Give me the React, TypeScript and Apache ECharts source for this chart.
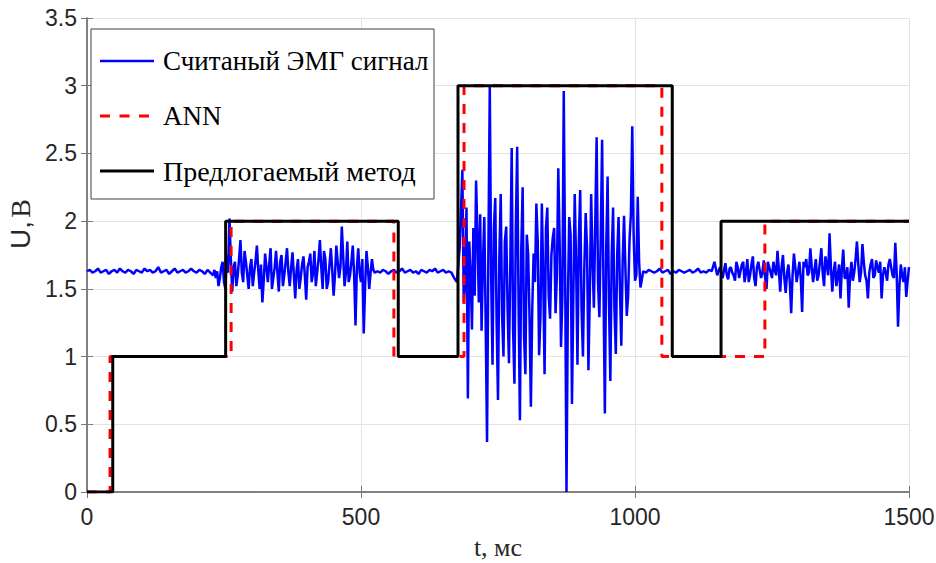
import React, { useEffect, useRef } from "react";
import * as echarts from "echarts";

// ---- data ----
const seriesNames = ["Считаный ЭМГ сигнал", "ANN", "Предлогаемый метод"];

// EMG samples every 5 ms, in segments [start time, values]; busy segments also carry
// in-between samples (at +2.5 ms)
const emgStep = 5;
const emgSeg0Start = 0;
const emgSeg0 = [1.63, 1.64, 1.62, 1.63, 1.65, 1.62, 1.63, 1.64, 1.61, 1.63, 1.64, 1.62, 1.65, 1.63, 1.62, 1.64, 1.63, 1.61, 1.64, 1.63, 1.62, 1.65, 1.63, 1.64, 1.62, 1.63, 1.66, 1.62, 1.63, 1.64, 1.61, 1.63, 1.65, 1.62, 1.63, 1.64, 1.62, 1.63, 1.65, 1.63, 1.62, 1.64, 1.63, 1.61, 1.64, 1.62];
const emgSeg1Start = 230;
const emgSeg1 = [1.60, 1.58, 1.52, 1.66, 1.55, 1.75, 2.02, 1.48, 1.70, 1.60, 1.86, 1.55, 1.70, 1.50, 1.72, 1.62, 1.82, 1.50, 1.40, 1.76, 1.55, 1.80, 1.58, 1.78, 1.48, 1.75, 1.60, 1.80, 1.52, 1.77, 1.43, 1.72, 1.58, 1.74, 1.42, 1.70, 1.55, 1.78, 1.62, 1.86, 1.50, 1.72, 1.55, 1.80, 1.45, 1.82, 1.58, 1.96, 1.52, 1.85, 1.60, 1.82, 1.23, 1.80, 1.55, 1.17, 1.78, 1.50, 1.72, 1.62];
const emgSeg1Mid = [1.64, 1.63, 1.58, 1.70, 1.50, 1.62, 1.72, 1.66, 1.52, 1.72, 1.62, 1.78, 1.60, 1.66, 1.52, 1.70, 1.64, 1.68, 1.56, 1.66, 1.68, 1.50, 1.66, 1.62, 1.70, 1.52, 1.70, 1.62, 1.66, 1.60, 1.64, 1.50, 1.68, 1.60, 1.66, 1.76, 1.62, 1.52, 1.72, 1.66, 1.78, 1.50, 1.68, 1.64, 1.60, 1.70, 1.66, 1.74, 1.62, 1.55, 1.70, 1.60, 1.66, 1.62, 1.72, 1.52, 1.66, 1.62, 1.64];
const emgSeg2Start = 530;
const emgSeg2 = [1.63, 1.62, 1.64, 1.63, 1.61, 1.63, 1.64, 1.62, 1.63, 1.65, 1.62, 1.63, 1.64, 1.62, 1.63, 1.61, 1.64, 1.63, 1.62, 1.64, 1.63, 1.65, 1.62, 1.63, 1.64, 1.62, 1.63, 1.62, 1.58, 1.55, 1.80];
const emgSeg3Start = 685;
const emgSeg3 = [2.38, 1.55, 0.69, 1.60, 1.95, 2.30, 1.40, 1.19, 2.03, 0.37, 3.00, 0.94, 2.17, 0.68, 2.20, 1.00, 1.96, 0.95, 2.54, 0.80, 2.55, 0.53, 2.25, 0.87, 1.76, 0.63, 1.76, 2.13, 1.01, 2.13, 0.87, 2.10, 1.28, 1.88, 1.32, 2.39, 1.07, 2.96, 0.00, 2.03, 0.65, 2.20, 0.94, 2.23, 1.00, 2.06, 0.90, 2.20, 1.36, 2.62, 1.29, 2.60, 0.58, 2.33, 0.82, 2.10, 1.02, 2.03, 1.08, 2.04, 1.30, 1.86, 2.70, 1.56, 2.18, 1.51];
const emgSeg3Mid = [1.40, 2.10, 1.85, 1.20, 1.45, 1.90, 2.05, 1.70, 1.25, 1.80, 1.60, 1.95, 1.25, 1.75, 1.30, 1.85, 1.35, 1.70, 1.20, 1.95, 1.40, 1.80, 1.15, 1.90, 1.30, 1.35, 1.55, 1.85, 1.30, 1.60, 1.95, 1.45, 1.75, 1.95, 1.60, 1.85, 1.45, 1.65, 1.40, 1.90, 1.45, 1.70, 1.85, 1.35, 1.65, 1.80, 1.45, 1.70, 2.00, 1.55, 1.90, 1.50, 1.80, 1.40, 1.75, 1.35, 1.75, 1.50, 1.70, 1.65, 1.45, 2.05, 1.90, 1.60, 1.70];
const emgSeg4Start = 1015;
const emgSeg4 = [1.63, 1.62, 1.64, 1.63, 1.62, 1.63, 1.65, 1.62, 1.63, 1.64, 1.61, 1.63, 1.62, 1.64, 1.63, 1.62, 1.63, 1.64, 1.62, 1.63, 1.65, 1.62, 1.63, 1.62, 1.64, 1.63, 1.70, 1.60];
const emgSeg5Start = 1155;
const emgSeg5 = [1.66, 1.58, 1.69, 1.57, 1.66, 1.60, 1.70, 1.58, 1.68, 1.55, 1.72, 1.60, 1.74, 1.52, 1.70, 1.58, 1.71, 1.50, 1.66, 1.58, 1.64, 1.78, 1.48, 1.75, 1.47, 1.68, 1.32, 1.76, 1.55, 1.70, 1.33, 1.66, 1.60, 1.80, 1.55, 1.72, 1.60, 1.80, 1.52, 1.68, 1.91, 1.48, 1.70, 1.60, 1.43, 1.79, 1.58, 1.36, 1.70, 1.62, 1.85, 1.55, 1.83, 1.60, 1.43, 1.68, 1.58, 1.71, 1.62, 1.43, 1.66, 1.56, 1.72, 1.60, 1.84, 1.22, 1.68, 1.55, 1.44, 1.66];
const emgSeg5Mid = [1.62, 1.64, 1.60, 1.65, 1.62, 1.56, 1.66, 1.63, 1.70, 1.62, 1.55, 1.68, 1.58, 1.66, 1.64, 1.62, 1.58, 1.70, 1.62, 1.70, 1.60, 1.64, 1.66, 1.58, 1.62, 1.55, 1.60, 1.66, 1.62, 1.58, 1.70, 1.72, 1.62, 1.66, 1.64, 1.56, 1.70, 1.62, 1.74, 1.60, 1.66, 1.62, 1.52, 1.68, 1.65, 1.58, 1.66, 1.60, 1.56, 1.72, 1.68, 1.62, 1.70, 1.56, 1.62, 1.72, 1.60, 1.66, 1.70, 1.60, 1.62, 1.68, 1.66, 1.58, 1.62, 1.52, 1.60, 1.66, 1.56];

// ANN step output: switch times and levels
const annTimes = [0, 42, 263, 560, 688, 1049, 1237];
const annLevels = [0, 1, 2, 1, 3, 1, 2];
// Proposed method step output
const methodTimes = [0, 47, 253, 568, 677, 1068, 1157];
const methodLevels = [0, 1, 2, 1, 3, 1, 2];
const tEnd = 1500;

const emgSegments: [number, number[], number[]][] = [
  [emgSeg0Start, emgSeg0, []],
  [emgSeg1Start, emgSeg1, emgSeg1Mid],
  [emgSeg2Start, emgSeg2, []],
  [emgSeg3Start, emgSeg3, emgSeg3Mid],
  [emgSeg4Start, emgSeg4, []],
  [emgSeg5Start, emgSeg5, emgSeg5Mid],
];

function buildEmg() {
  const out: number[][] = [];
  emgSegments.forEach(([start, vals, mids]) => {
    vals.forEach((v, k) => {
      out.push([start + k * emgStep, v]);
      if (k < mids.length) out.push([start + k * emgStep + emgStep / 2, mids[k]]);
    });
  });
  return out;
}

function buildStep(times: number[], levels: number[]) {
  const out = times.map((t, i) => [t, levels[i]]);
  out.push([tEnd, levels[levels.length - 1]]);
  return out;
}

const SANS = "Liberation Sans, Arial, sans-serif";
const SERIF = "Liberation Serif, Times New Roman, serif";

export default function App() {
  const ref = useRef<HTMLDivElement>(null);
  useEffect(() => {
    if (!ref.current) return;
    const chart = echarts.init(ref.current, undefined, { renderer: "svg" });
    const axisColor = "#7a7a7a";
    const labelColor = "#262626";
    const gridColor = "#e3e3e3";
    const legendRows = [61, 116, 171];
    const legendColors = ["#0000ff", "#ff0000", "#000000"];
    const legendWidths = [2.5, 3, 3];
    const legendFontSizes = [27, 27, 28];
    const legendGraphics: any[] = [
      {
        type: "rect",
        shape: { x: 91, y: 29, width: 343, height: 170 },
        style: { fill: "#ffffff", stroke: "#404040", lineWidth: 1 },
        z: 100,
      },
    ];
    seriesNames.forEach((name, i) => {
      legendGraphics.push({
        type: "line",
        shape: { x1: 100, y1: legendRows[i], x2: i === 1 ? 150 : 154, y2: legendRows[i] },
        style: {
          stroke: legendColors[i],
          lineWidth: legendWidths[i],
          lineDash: i === 1 ? [10, 9.5] : null,
        },
        z: 101,
      });
      legendGraphics.push({
        type: "text",
        x: 163,
        y: legendRows[i],
        style: {
          text: name,
          fontFamily: SERIF,
          fontSize: legendFontSizes[i],
          fill: "#000000",
          verticalAlign: "middle",
        },
        z: 101,
      });
    });
    chart.setOption({
      animation: false,
      backgroundColor: "#ffffff",
      grid: { left: 87, right: 27, top: 18, bottom: 71, containLabel: false, outerBoundsMode: "none" },
      graphic: legendGraphics,
      xAxis: [
        {
          type: "value",
          min: 0,
          max: 1500,
          interval: 500,
          name: "t, мс",
          nameLocation: "middle",
          nameGap: 44,
          nameTextStyle: { fontFamily: SERIF, fontSize: 26, lineHeight: 22, color: labelColor },
          axisLine: { show: true, lineStyle: { color: axisColor, width: 1.5 } },
          axisTick: { show: true, inside: true, length: 6, lineStyle: { color: axisColor } },
          axisLabel: { fontFamily: SANS, fontSize: 23, color: labelColor, margin: 13, formatter: (v: number) => String(v) },
          splitLine: { show: true, lineStyle: { color: gridColor, width: 1 } },
        },
        {
          type: "value",
          position: "top",
          min: 0,
          max: 1500,
          interval: 500,
          axisLine: { show: true, lineStyle: { color: axisColor, width: 1.5 } },
          axisTick: { show: true, inside: true, length: 6, lineStyle: { color: axisColor } },
          axisLabel: { show: false },
          splitLine: { show: false },
        },
      ],
      yAxis: [
        {
          type: "value",
          min: 0,
          max: 3.5,
          interval: 0.5,
          name: "{a|U,} {b|В}",
          nameLocation: "middle",
          nameGap: 46,
          nameRotate: 90,
          nameTextStyle: {
            padding: [0, 0, 0, 62],
            rich: {
              a: { fontFamily: SANS, fontSize: 28, color: labelColor },
              b: { fontFamily: SERIF, fontSize: 28, color: labelColor },
            },
          },
          axisLine: { show: true, lineStyle: { color: axisColor, width: 1.5 } },
          axisTick: { show: true, inside: true, length: 6, lineStyle: { color: axisColor } },
          axisLabel: { fontFamily: SANS, fontSize: 23, color: labelColor, margin: 10 },
          splitLine: { show: true, lineStyle: { color: gridColor, width: 1 } },
        },
        {
          type: "value",
          position: "right",
          min: 0,
          max: 3.5,
          interval: 0.5,
          axisLine: { show: true, lineStyle: { color: axisColor, width: 1.5 } },
          axisTick: { show: true, inside: true, length: 6, lineStyle: { color: axisColor } },
          axisLabel: { show: false },
          splitLine: { show: false },
        },
      ],
      series: [
        {
          name: seriesNames[0],
          type: "line",
          data: buildEmg(),
          symbol: "none",
          lineStyle: { color: "#0000ff", width: 2.5 },
          itemStyle: { color: "#0000ff" },
          z: 2,
        },
        {
          name: seriesNames[1],
          type: "line",
          step: "end",
          data: buildStep(annTimes, annLevels),
          symbol: "none",
          lineStyle: { color: "#ff0000", width: 3, type: [10, 9] },
          itemStyle: { color: "#ff0000" },
          z: 3,
        },
        {
          name: seriesNames[2],
          type: "line",
          step: "end",
          data: buildStep(methodTimes, methodLevels),
          symbol: "none",
          lineStyle: { color: "#000000", width: 3 },
          itemStyle: { color: "#000000" },
          z: 4,
        },
      ],
    });
    return () => chart.dispose();
  }, []);
  return (
    <div
      ref={ref}
      style={{ position: "fixed", left: 0, top: 0, width: 936, height: 563, background: "#fff" }}
    />
  );
}
